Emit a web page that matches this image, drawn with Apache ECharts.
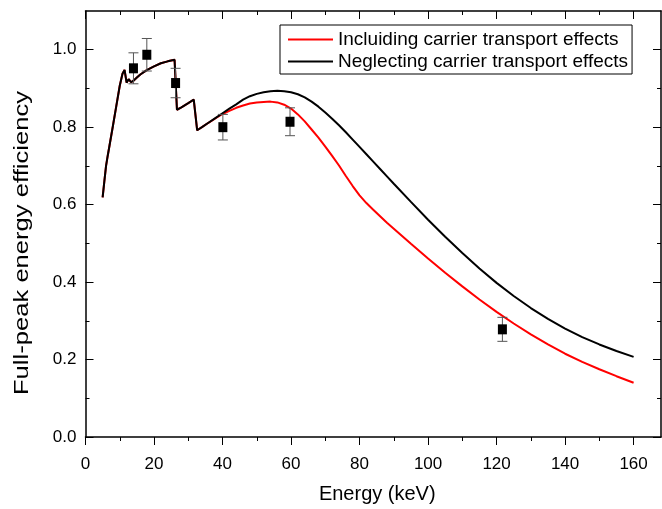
<!DOCTYPE html>
<html>
<head>
<meta charset="utf-8">
<script src="https://cdn.jsdelivr.net/npm/echarts@6/dist/echarts.min.js"></script>
<style>
  html, body { margin: 0; padding: 0; background: #fff; }
  #chart { width: 662px; height: 509px; }
</style>
</head>
<body>
<div id="chart"></div>
<script>
// Simulated full-peak efficiency vs photon energy, with and without carrier transport
const energyKeV = [5, 5.5, 6, 6.5, 7, 8, 9, 10, 10.8, 11.4, 12.0, 12.6, 13.3, 14, 15, 16, 18, 20, 22, 24, 26, 26.5, 26.7, 28, 30, 31.6, 32.6, 34, 36, 38, 40, 42, 44, 46, 48, 50, 52, 54, 56, 58, 60, 62, 64, 66, 68, 70, 72, 74, 76, 78, 80, 82, 84, 86, 88, 90, 95, 100, 105, 110, 115, 120, 125, 130, 135, 140, 145, 150, 155, 160];

const includingEff = [0.619, 0.66, 0.700, 0.727, 0.752, 0.803, 0.855, 0.907, 0.938, 0.948, 0.915, 0.924, 0.916, 0.920, 0.928, 0.936, 0.948, 0.957, 0.965, 0.970, 0.974, 0.975, 0.845, 0.851, 0.862, 0.871, 0.792, 0.800, 0.812, 0.823, 0.834, 0.842, 0.850, 0.856, 0.861, 0.864, 0.865, 0.866, 0.864, 0.858, 0.848, 0.833, 0.815, 0.794, 0.773, 0.750, 0.726, 0.701, 0.674, 0.648, 0.624, 0.604, 0.587, 0.570, 0.553, 0.538, 0.499, 0.461, 0.424, 0.389, 0.355, 0.323, 0.293, 0.265, 0.239, 0.215, 0.194, 0.175, 0.157, 0.140];

const neglectingEff = [0.619, 0.66, 0.700, 0.727, 0.752, 0.803, 0.855, 0.907, 0.938, 0.948, 0.915, 0.924, 0.916, 0.920, 0.928, 0.936, 0.948, 0.957, 0.965, 0.970, 0.974, 0.975, 0.845, 0.851, 0.862, 0.871, 0.792, 0.800, 0.812, 0.824, 0.836, 0.848, 0.859, 0.871, 0.880, 0.886, 0.890, 0.893, 0.894, 0.893, 0.890, 0.885, 0.877, 0.866, 0.853, 0.838, 0.822, 0.805, 0.787, 0.768, 0.749, 0.730, 0.711, 0.692, 0.673, 0.654, 0.607, 0.561, 0.517, 0.475, 0.435, 0.398, 0.364, 0.333, 0.305, 0.280, 0.258, 0.239, 0.222, 0.207];

// Measured points with their uncertainties
const measEnergy = [14.0, 17.9, 26.3, 40.1, 59.7, 121.7];
const measEff = [0.952, 0.987, 0.914, 0.800, 0.814, 0.278];
const measErr = [0.040, 0.042, 0.038, 0.033, 0.036, 0.031];

// Tick positions
const xMajorTicks = [0, 20, 40, 60, 80, 100, 120, 140, 160];
const xMinorTicks = [10, 30, 50, 70, 90, 110, 130, 150];
const yMajorTicks = [0, 0.2, 0.4, 0.6, 0.8, 1.0];
const yMinorTicks = [0.1, 0.3, 0.5, 0.7, 0.9];

const seriesNames = ['Incluiding carrier transport effects', 'Neglecting carrier transport effects'];
const xTitle = 'Energy (keV)';
const yTitle = 'Full-peak energy efficiency';

const FONT = "'Liberation Sans', Arial, sans-serif";
const frameLine = { show: true, onZero: false, lineStyle: { color: '#000', width: 1.5 } };

function zip(xs, ys) { return xs.map((x, i) => [x, ys[i]]); }

// One axis per tick set, so major and minor ticks can have different lengths
function tickAxis(base, values, len, inside, extra) {
  return Object.assign({
    type: 'value',
    axisLine: { show: false, onZero: false },
    axisTick: { show: true, inside: inside, length: len, customValues: values, lineStyle: { color: '#000', width: 1 } },
    axisLabel: { show: false },
    splitLine: { show: false }
  }, base, extra || {});
}

const xBase = { min: 0, max: 168 };
const yBase = { min: 0, max: 1.1 };

const chart = echarts.init(document.getElementById('chart'));
chart.setOption({
  animation: false,
  backgroundColor: '#fff',
  grid: { left: 85.5, right: 1, top: 11, bottom: 72, containLabel: false },
  xAxis: [
    tickAxis(xBase, xMajorTicks, 8, false, {
      position: 'bottom',
      axisLine: frameLine,
      axisLabel: { show: true, customValues: xMajorTicks, fontFamily: FONT, fontSize: 17, color: '#000', margin: 19 },
      name: xTitle,
      nameLocation: 'middle',
      nameGap: 47,
      nameTextStyle: { fontFamily: FONT, fontSize: 20, color: '#000', padding: [0, 0, 0, 8] }
    }),
    tickAxis(xBase, xMinorTicks, 4, false, { position: 'bottom' }),
    tickAxis(xBase, xMajorTicks, 8, true, { position: 'top', axisLine: frameLine }),
    tickAxis(xBase, xMinorTicks, 4, true, { position: 'top' })
  ],
  yAxis: [
    tickAxis(yBase, yMajorTicks, 8, true, {
      position: 'left',
      axisLine: frameLine,
      axisLabel: { show: true, customValues: yMajorTicks, fontFamily: FONT, fontSize: 17, color: '#000', margin: 9,
                   formatter: v => v.toFixed(1) }
    }),
    tickAxis(yBase, yMinorTicks, 4, true, { position: 'left' }),
    tickAxis(yBase, yMajorTicks, 8, true, { position: 'right', axisLine: frameLine }),
    tickAxis(yBase, yMinorTicks, 4, true, { position: 'right' })
  ],
  // Vertical axis title, stretched along its length
  graphic: [{
    type: 'text',
    x: 22,
    y: 243,
    rotation: Math.PI / 2,
    scaleX: 1.28,
    style: {
      text: yTitle,
      font: "20px 'Liberation Sans', Arial, sans-serif",
      fill: '#000',
      align: 'center',
      verticalAlign: 'middle'
    }
  }],
  legend: {
    data: seriesNames,
    orient: 'vertical',
    left: 280,
    top: 25,
    padding: [5, 4, 3, 8],
    icon: 'rect',
    itemWidth: 45,
    itemHeight: 2,
    itemGap: 3,
    borderColor: '#000',
    borderWidth: 1,
    borderRadius: 0,
    backgroundColor: '#fff',
    textStyle: { fontFamily: FONT, fontSize: 19, color: '#000', lineHeight: 19 }
  },
  series: [
    {
      name: seriesNames[0],
      type: 'line',
      data: zip(energyKeV, includingEff),
      symbol: 'none',
      lineStyle: { color: '#ff0000', width: 2 },
      itemStyle: { color: '#ff0000' },
      z: 2
    },
    {
      name: seriesNames[1],
      type: 'line',
      data: zip(energyKeV, neglectingEff),
      symbol: 'none',
      lineStyle: { color: '#000', width: 2 },
      itemStyle: { color: '#000' },
      z: 3
    },
    {
      type: 'custom',
      name: 'errors',
      data: measEnergy.map((x, i) => [x, measEff[i] - measErr[i], measEff[i] + measErr[i]]),
      renderItem: function (params, api) {
        const lo = api.coord([api.value(0), api.value(1)]);
        const hi = api.coord([api.value(0), api.value(2)]);
        const cap = 5;
        const style = { stroke: '#555', lineWidth: 1, fill: null };
        return {
          type: 'group',
          children: [
            { type: 'line', shape: { x1: lo[0], y1: lo[1], x2: hi[0], y2: hi[1] }, style: style },
            { type: 'line', shape: { x1: lo[0] - cap, y1: lo[1], x2: lo[0] + cap, y2: lo[1] }, style: style },
            { type: 'line', shape: { x1: hi[0] - cap, y1: hi[1], x2: hi[0] + cap, y2: hi[1] }, style: style }
          ]
        };
      },
      encode: { x: 0, y: [1, 2] },
      z: 4
    },
    {
      type: 'scatter',
      name: 'measured',
      data: zip(measEnergy, measEff),
      symbol: 'rect',
      symbolSize: [9, 10],
      itemStyle: { color: '#000', opacity: 1 },
      z: 5
    }
  ]
});
</script>
</body>
</html>
